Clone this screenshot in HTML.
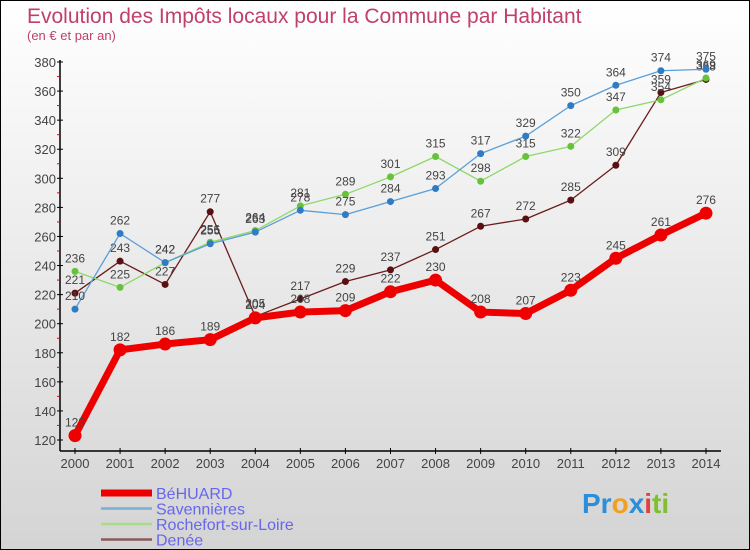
<!DOCTYPE html>
<html><head><meta charset="utf-8"><style>
body{margin:0}
#c{position:relative;width:748px;height:548px;border:1px solid #000;background:linear-gradient(#ffffff,#d4d4d4);font-family:"Liberation Sans",sans-serif;overflow:hidden}
</style></head><body>
<div id="c">
<svg id="s" width="748" height="548" style="position:absolute;left:0;top:0">
<text x="26" y="22" font-size="21" fill="#c0406a">Evolution des Impôts locaux pour la Commune par Habitant</text>
<text x="26" y="39" font-size="13" fill="#c0406a">(en € et par an)</text>
<g id="axes"></g><g id="series"></g><g id="legend"></g>
</svg>
</div>
<script>
const years=[2000,2001,2002,2003,2004,2005,2006,2007,2008,2009,2010,2011,2012,2013,2014];
const yTicks=[120,140,160,180,200,220,240,260,280,300,320,340,360,380];
const behuard=[123,182,186,189,204,208,209,222,230,208,207,223,245,261,276];
const savennieres=[210,262,242,255,263,278,275,284,293,317,329,350,364,374,375];
const rochefort=[236,225,242,256,264,281,289,301,315,298,315,322,347,354,369];
const denee=[221,243,227,277,205,217,229,237,251,267,272,285,309,359,368];
const NS="http://www.w3.org/2000/svg";
const X=i=>74+i*45.07, Y=v=>439-(v-120)*(378/260);
function mk(t,a,p){const e=document.createElementNS(NS,t);for(const k in a)e.setAttribute(k,a[k]);p.appendChild(e);return e;}
const ax=document.getElementById('axes');
let yl=mk('line',{x1:59,y1:59,x2:59,y2:450,stroke:'#000','stroke-width':1.5},ax);

let xl=mk('line',{x1:59,y1:450,x2:720,y2:450,stroke:'#000','stroke-width':1.5},ax);

yTicks.forEach((v,i)=>{
 mk('line',{x1:56,y1:Y(v),x2:62,y2:Y(v),stroke:'#000'},ax);
 if(i<yTicks.length-1)mk('line',{x1:56,y1:Y(v+10),x2:59,y2:Y(v+10),stroke:'#e00'},ax);
 const t=mk('text',{x:55,y:Y(v)+5,'text-anchor':'end','font-size':13,fill:'#444'},ax);t.textContent=v;
 
});
years.forEach((y,i)=>{
 mk('line',{x1:X(i),y1:447,x2:X(i),y2:453,stroke:'#000'},ax);
 const t=mk('text',{x:X(i),y:467,'text-anchor':'middle','font-size':13,fill:'#444'},ax);t.textContent=y;
 
});
const sg=document.getElementById('series');
const defs=[[denee,'#6b1c1c','#5a1010',1.3,3.5,'denee'],[rochefort,'#8fd86a','#66c23a',1.3,3.5,'rochefort'],[savennieres,'#5a9fd8','#2f7cc4',1.3,3.5,'savennieres'],[behuard,'#ee0000','#ee0000',7,6.5,'behuard']];
defs.forEach(([d,c,dc,w,r,n])=>{
 const g=mk('g',{},sg);
 mk('polyline',{points:d.map((v,i)=>X(i)+','+Y(v)).join(' '),fill:'none',stroke:c,'stroke-width':w,'stroke-linejoin':'round'},g);
 d.forEach((v,i)=>{
  const p=mk('circle',{cx:X(i),cy:Y(v),r:r,fill:dc},g);
  
  const t=mk('text',{x:X(i),y:Y(v)-9,'text-anchor':'middle','font-size':12,fill:'#444'},g);t.textContent=v;
 });
});
const lg=document.getElementById('legend');
[['BéHUARD','#ee0000',7],['Savennières','#7aaed4',2.5],['Rochefort-sur-Loire','#a8dc88',2.5],['Denée','#8a5a5a',2.5]].forEach(([n,c,w],i)=>{
 const y=492+i*15.5;
 const g=mk('g',{},lg);
 mk('line',{x1:100,y1:y,x2:151,y2:y,stroke:c,'stroke-width':w},g);
 const t=mk('text',{x:155,y:y+6,'font-size':16,fill:'#6666ee'},g);t.textContent=n;
});
</script>
<div style="position:absolute;left:582px;top:488px;font-size:28px;font-weight:bold;font-family:'Liberation Sans',sans-serif"><span style="color:#2a8fd8">Pr</span><span style="color:#f0a020">o</span><span style="color:#2a8fd8">x</span><span style="color:#e04040">i</span><span style="color:#80c030">ti</span></div>
</body></html>
